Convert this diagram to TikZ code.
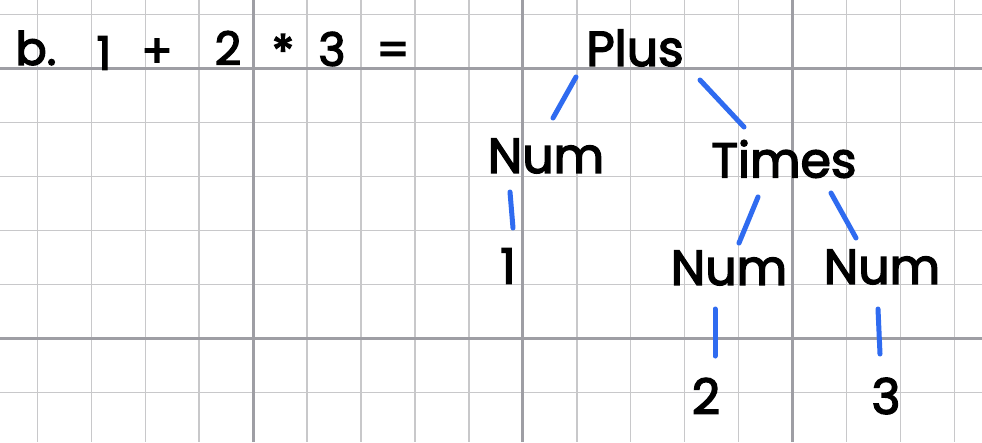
\documentclass[tikz,border=0pt]{standalone}
\usepackage{fontspec}
\setmainfont{Poppins}
\newfontfamily\hand{Poppins}[FakeBold=3]
\definecolor{gridthin}{RGB}{200,200,202}
\definecolor{gridthick}{RGB}{158,158,164}
\definecolor{inkblue}{RGB}{47,107,240}
\begin{document}
\begin{tikzpicture}[x=1pt,y=-1pt,
  hw/.style={inner sep=0pt,outer sep=0pt,font=\hand\fontsize{49}{49}\selectfont,text=black},
  hwsmall/.style={inner sep=0pt,outer sep=0pt,font=\hand\fontsize{46}{46}\selectfont,text=black},
  stroke/.style={draw=inkblue,line width=5pt,line cap=round}]
\useasboundingbox (0,0) rectangle (982,442);
\fill[white] (0,0) rectangle (982,442);
% grid
\foreach \k in {0,...,17} {
  \draw[gridthin,line width=1.4pt] ({37.3+53.95*\k},0) -- ({37.3+53.95*\k},442);
}
\foreach \k in {0,...,7} {
  \draw[gridthin,line width=1.4pt] (0,{14.3+54*\k}) -- (982,{14.3+54*\k});
}
\foreach \k in {4,9,14} {
  \draw[gridthick,line width=3pt] ({37.3+53.95*\k},0) -- ({37.3+53.95*\k},442);
}
\foreach \k in {1,6} {
  \draw[gridthick,line width=3pt] (0,{14.3+54*\k}) -- (982,{14.3+54*\k});
}
% expression
\node[hwsmall] (tb) at (36,48) {b.};
\node[hwsmall] (t1) at (104,53) {1};
\node[hwsmall] (tplus) at (157,53) {+};
\node[hwsmall] (t2) at (228,48) {2};
\node[hwsmall] (tstar) at (283,51) {*};
\node[hwsmall] (t3) at (332,49) {3};
\node[hwsmall] (teq) at (393,54) {=};
% tree
\node[hw] (plus) at (635,48) {Plus};
\node[hw] (numL) at (546,156) {Num};
\node[hw] (times) at (784,159) {Times};
\node[hw] (one) at (508,266) {1};
\node[hw] (numM) at (729,268) {Num};
\node[hw] (numR) at (882,267) {Num};
\node[hw] (two) at (706,396) {2};
\node[hw] (three) at (886,396) {3};
% connectors
\draw[stroke] ([shift={(-59,29)}]plus.center) -- ([shift={(7,-38)}]numL.center);
\draw[stroke] ([shift={(65,32)}]plus.center) -- ([shift={(-40,-32)}]times.center);
\draw[stroke] ([shift={(-36,36)}]numL.center) -- ([shift={(5,-38)}]one.center);
\draw[stroke] ([shift={(-26,38)}]times.center) -- ([shift={(10,-25)}]numM.center);
\draw[stroke] ([shift={(47,34)}]times.center) -- ([shift={(-26,-29)}]numR.center);
\draw[stroke] ([shift={(-14,41)}]numM.center) -- ([shift={(9,-40)}]two.center);
\draw[stroke] ([shift={(-4,42)}]numR.center) -- ([shift={(-6,-42)}]three.center);
\end{tikzpicture}
\end{document}
